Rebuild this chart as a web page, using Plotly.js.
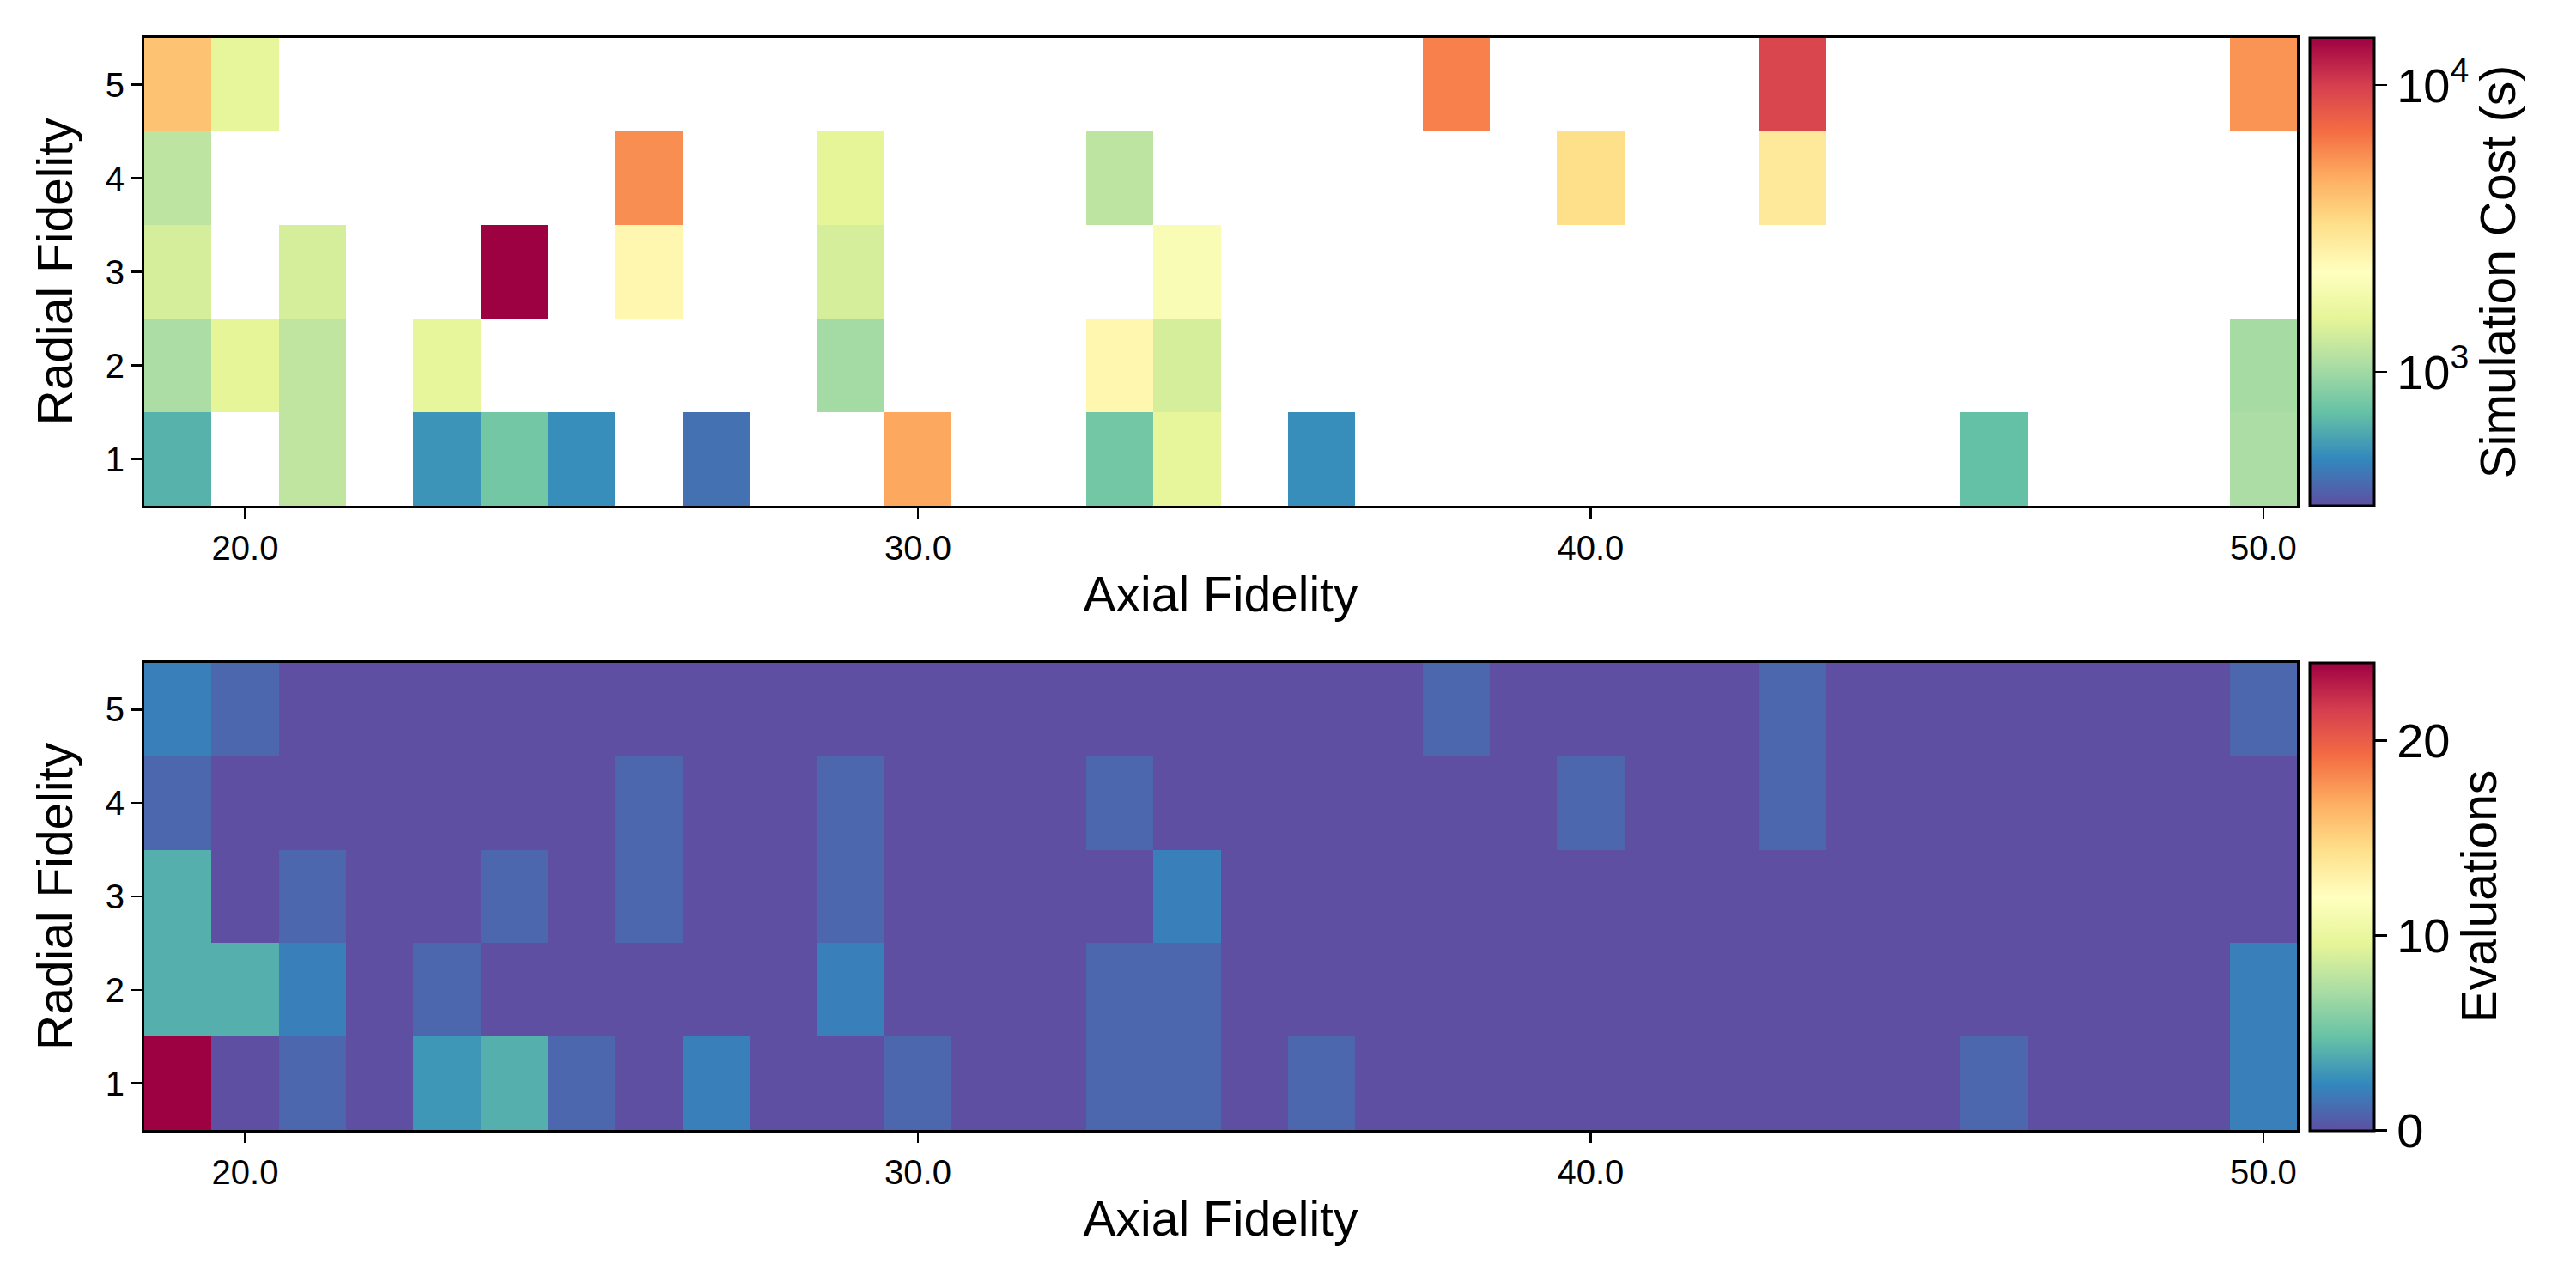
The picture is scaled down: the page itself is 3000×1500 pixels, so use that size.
<!DOCTYPE html>
<html><head><meta charset="utf-8">
<script src="https://cdn.plot.ly/plotly-3.0.1.min.js"></script>
<style>body{margin:0;background:#fff}</style></head>
<body><div id="chart" style="width:3000px;height:1500px"></div>
<script>
// Grid axes
const axialFidelity = [];
for (let a = 19; a <= 50; a++) axialFidelity.push(a);
const radialFidelity = [1, 2, 3, 4, 5];
const axialTicks = [20, 30, 40, 50];

// Sampled cells per radial fidelity row: axial position, simulation cost (s), evaluations
const row1Axial = [19, 21, 23, 24, 25, 27, 30, 33, 34, 36, 46, 50];
const row1Cost  = [650, 1200, 535, 780, 516, 427, 4900, 780, 1585, 516, 720, 1050];
const row1Evals = [24, 1, 3, 4, 1, 2, 1, 1, 1, 1, 1, 2];

const row2Axial = [19, 20, 21, 23, 29, 33, 34, 50];
const row2Cost  = [1050, 1535, 1200, 1580, 1015, 2500, 1370, 1030];
const row2Evals = [4, 4, 2, 1, 2, 1, 1, 2];

const row3Axial = [19, 21, 24, 26, 29, 34];
const row3Cost  = [1370, 1370, 14600, 2500, 1370, 2000];
const row3Evals = [4, 1, 1, 1, 1, 2];

const row4Axial = [19, 26, 29, 33, 40, 43];
const row4Cost  = [1180, 5700, 1535, 1180, 3250, 2900];
const row4Evals = [1, 1, 1, 1, 1, 1];

const row5Axial = [19, 20, 38, 43, 50];
const row5Cost  = [4080, 1585, 6160, 9400, 5500];
const row5Evals = [2, 1, 1, 1, 1];

const costRange = [341, 14600];
const evalRange = [0, 24];

// Spectral (reversed) colour scale
const spectralR = ['#5e4fa2','#3288bd','#66c2a5','#abdda4','#e6f598','#ffffbf','#fee08b','#fdae61','#f46d43','#d53e4f','#9e0142'];
const colorscale = spectralR.map((c, i) => [i / (spectralR.length - 1), c]);

// Build grids
const rowsAxial = [row1Axial, row2Axial, row3Axial, row4Axial, row5Axial];
const rowsCost = [row1Cost, row2Cost, row3Cost, row4Cost, row5Cost];
const rowsEvals = [row1Evals, row2Evals, row3Evals, row4Evals, row5Evals];
const costGrid = [], costLog = [], evalGrid = [];
for (let r = 0; r < radialFidelity.length; r++) {
  const c = axialFidelity.map(() => null);
  const e = axialFidelity.map(() => 0);
  rowsAxial[r].forEach((a, k) => {
    const idx = axialFidelity.indexOf(a);
    c[idx] = rowsCost[r][k];
    e[idx] = rowsEvals[r][k];
  });
  costGrid.push(c);
  costLog.push(c.map(v => v === null ? null : Math.log10(v)));
  evalGrid.push(e);
}

const FONT = 'Liberation Sans, Arial, Helvetica, sans-serif';
const L = 168 / 3000, R = 2675 / 3000;
const topDom = [1 - 589 / 1500, 1 - 44 / 1500];
const botDom = [1 - 1316 / 1500, 1 - 772 / 1500];
const cbX = 2690 / 3000;
const cbLen = (589 - 44) / 1500;

const traces = [
  {
    type: 'heatmap', x: axialFidelity, y: radialFidelity, z: costLog,
    customdata: costGrid, hovertemplate: 'Axial %{x}<br>Radial %{y}<br>Cost %{customdata:.0f} s<extra></extra>',
    colorscale: colorscale, zmin: Math.log10(costRange[0]), zmax: Math.log10(costRange[1]),
    zsmooth: false, xaxis: 'x', yaxis: 'y',
    colorbar: {
      x: cbX, xanchor: 'left', xref: 'paper', y: (topDom[0] + topDom[1]) / 2, yanchor: 'middle',
      len: cbLen, lenmode: 'fraction', thickness: 75, thicknessmode: 'pixels',
      outlinewidth: 3, outlinecolor: '#000', xpad: 0, ypad: 0,
      tickmode: 'array', tickvals: [3, 4], ticktext: ['10<sup>3</sup>', '10<sup>4</sup>'],
      ticks: 'outside', ticklen: 14, tickwidth: 2.5, tickcolor: '#000',
      tickfont: {family: FONT, size: 56, color: '#000'},
      title: {text: 'Simulation Cost (s)', side: 'right', font: {family: FONT, size: 57, color: '#000'}}
    }
  },
  {
    type: 'heatmap', x: axialFidelity, y: radialFidelity, z: evalGrid,
    hovertemplate: 'Axial %{x}<br>Radial %{y}<br>Evaluations %{z}<extra></extra>',
    colorscale: colorscale, zmin: evalRange[0], zmax: evalRange[1],
    zsmooth: false, xaxis: 'x2', yaxis: 'y2',
    colorbar: {
      x: cbX, xanchor: 'left', xref: 'paper', y: (botDom[0] + botDom[1]) / 2, yanchor: 'middle',
      len: cbLen, lenmode: 'fraction', thickness: 75, thicknessmode: 'pixels',
      outlinewidth: 3, outlinecolor: '#000', xpad: 0, ypad: 0,
      tickmode: 'array', tickvals: [0, 10, 20],
      ticks: 'outside', ticklen: 14, tickwidth: 2.5, tickcolor: '#000',
      tickfont: {family: FONT, size: 56, color: '#000'},
      title: {text: 'Evaluations', side: 'right', font: {family: FONT, size: 57, color: '#000'}}
    }
  }
];

function xax(anchor) {
  return {
    domain: [L, R], anchor: anchor, range: [18.5, 50.5],
    tickmode: 'array', tickvals: axialTicks, tickformat: '.1f',
    ticks: 'outside', ticklen: 12, tickwidth: 2.5, tickcolor: '#000',
    tickfont: {family: FONT, size: 40, color: '#000'},
    showline: true, mirror: true, linecolor: '#000', linewidth: 3,
    showgrid: false, zeroline: false,
    title: {text: 'Axial Fidelity', font: {family: FONT, size: 57, color: '#000'}, standoff: 14}
  };
}
function yax(anchor, dom) {
  return {
    domain: dom, anchor: anchor, range: [0.5, 5.5],
    tickmode: 'array', tickvals: radialFidelity,
    ticks: 'outside', ticklen: 12, tickwidth: 2.5, tickcolor: '#000',
    tickfont: {family: FONT, size: 40, color: '#000'},
    showline: true, mirror: true, linecolor: '#000', linewidth: 3,
    showgrid: false, zeroline: false,
    title: {text: 'Radial Fidelity', font: {family: FONT, size: 57, color: '#000'}, standoff: 20}
  };
}

const layout = {
  width: 3000, height: 1500,
  margin: {l: 0, r: 0, t: 0, b: 0},
  paper_bgcolor: '#fff', plot_bgcolor: '#fff',
  font: {family: FONT, color: '#000'},
  showlegend: false,
  xaxis: xax('y'), yaxis: yax('x', topDom),
  xaxis2: xax('y2'), yaxis2: yax('x2', botDom),
  yaxis3: {
    overlaying: 'y', anchor: 'free', position: 2765 / 3000, side: 'right',
    type: 'log', range: [Math.log10(costRange[0]), Math.log10(costRange[1])],
    dtick: 1, ticks: '', showticklabels: false, showgrid: false, showline: false, zeroline: false,
    minor: {ticks: 'outside', ticklen: 8, tickwidth: 2, tickcolor: '#000', dtick: 'D1', showgrid: false}
  }
};

Plotly.newPlot('chart', traces, layout, {staticPlot: true});
</script>
</body></html>
